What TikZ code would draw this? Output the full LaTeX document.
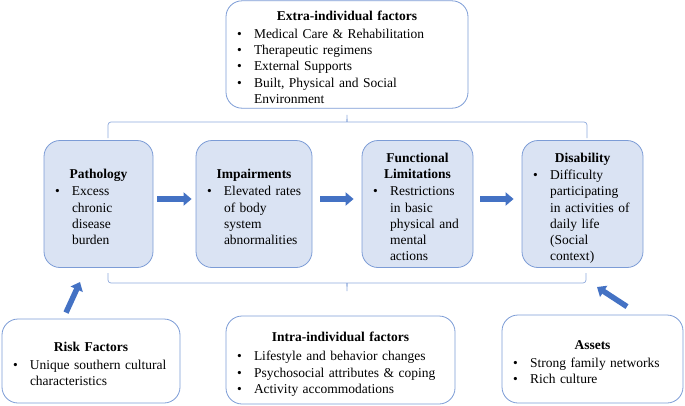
\documentclass[tikz,border=0pt]{standalone}
\usepackage{fontspec}
\setmainfont{Liberation Serif}
\usepackage{tikz}
\usetikzlibrary{arrows.meta,positioning}

\definecolor{boxfill}{HTML}{DAE3F3}
\definecolor{boxline}{HTML}{7C9CD6}
\definecolor{bracecol}{HTML}{8FAADC}
\definecolor{arrowblue}{HTML}{4472C4}

\newcommand{\ttl}[1]{{\centering\bfseries\rule{0pt}{20pt}#1\par}\vspace{1pt}}
\newcommand{\itm}[1]{\par\setlength{\lineskip}{0pt}\noindent\hspace*{11pt}\makebox[17pt][l]{\textbullet}\begin{tabular}[t]{@{}l@{}}#1\end{tabular}\par}

\begin{document}
\begin{tikzpicture}[x=1pt,y=-1pt,
  factor/.style={draw=boxline, line width=0.8pt, rounded corners=16pt, fill=white, inner sep=0pt, align=left, font=\fontsize{13.5}{16.3}\selectfont},
  stage/.style={factor, fill=boxfill},
  flowarrow/.style={draw=arrowblue, line width=5.5pt, -{Triangle[length=8pt,width=13pt]}},
  bracketline/.style={draw=bracecol, line width=0.7pt}]
  \useasboundingbox (0,0) rectangle (685,405);

  % brackets
  \draw[bracketline, rounded corners=3pt] (108,138) -- (108,122) -- (344,122) .. controls (346.5,122) and (347,118) .. (347,113) .. controls (347,118) and (347.5,122) .. (350,122) -- (587,122) -- (587,138);
  \draw[bracketline, rounded corners=3pt] (108,273) -- (108,283) -- (344,283) .. controls (346.5,283) and (347,288) .. (347,293) .. controls (347,288) and (347.5,283) .. (350,283) -- (586,283) -- (586,273);

  \node[factor, text width=242pt, minimum height=105pt] (extra) at (347,54.5) {\ttl{Extra-individual factors}\itm{Medical Care \& Rehabilitation}\itm{Therapeutic regimens}\itm{External Supports}\itm{Built, Physical and Social\\Environment}};

  \node[stage, text width=109pt, minimum height=127pt] (path) at (98.5,204) {\ttl{Pathology}\itm{Excess\\chronic\\disease\\burden}};
  \node[stage, text width=116pt, minimum height=127pt] (imp) at (254,204) {\ttl{Impairments}\itm{Elevated rates\\of body\\system\\abnormalities}};
  \node[stage, text width=111pt, minimum height=127pt] (func) at (417.5,204) {\ttl{Functional\\Limitations}\itm{Restrictions\\in basic\\physical and\\mental\\actions}};
  \node[stage, text width=121pt, minimum height=127pt] (dis) at (582.5,204) {\ttl{Disability}\itm{Difficulty\\participating\\in activities of\\daily life\\(Social\\context)}};

  \node[factor, text width=178pt, minimum height=84pt] (risk) at (91,361) {\ttl{Risk Factors}\itm{Unique southern cultural\\characteristics}};
  \node[factor, text width=229pt, minimum height=88pt] (intra) at (340.5,360) {\ttl{Intra-individual factors}\vspace{2pt}\itm{Lifestyle and behavior changes}\itm{Psychosocial attributes \& coping}\itm{Activity accommodations}};
  \node[factor, text width=181pt, minimum height=88pt] (assets) at (592.5,359) {\ttl{Assets}\itm{Strong family networks}\itm{Rich culture}};

  \draw[flowarrow, shorten <=4pt, shorten >=4pt] ([yshift=5pt]path.east) -- ([yshift=5pt]imp.west);
  \draw[flowarrow, shorten <=8pt, shorten >=8pt] ([yshift=5pt]imp.east) -- ([yshift=5pt]func.west);
  \draw[flowarrow, shorten <=7pt, shorten >=8pt] ([yshift=5pt]func.east) -- ([yshift=5pt]dis.west);

  \coordinate (riskhead) at (80,282);
  \coordinate (assetshead) at (597,287);
  \draw[flowarrow] ([xshift=-25pt,yshift=6pt]risk.north) -- (riskhead);
  \draw[flowarrow] ([xshift=34.5pt,yshift=8pt]assets.north) -- (assetshead);
\end{tikzpicture}
\end{document}
